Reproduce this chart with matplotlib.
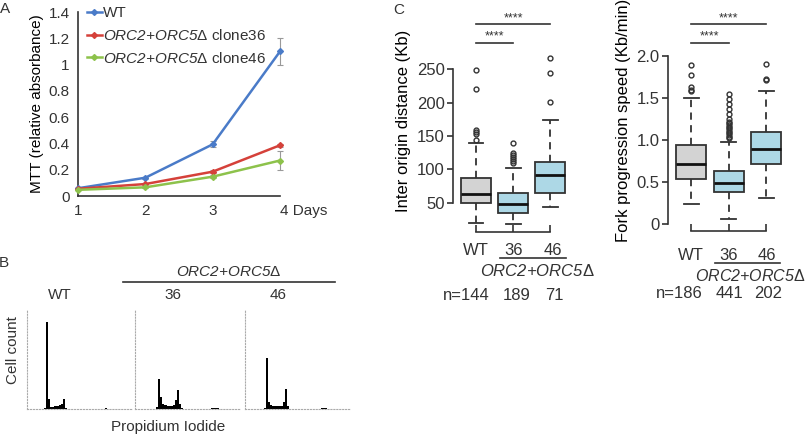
import matplotlib
matplotlib.use('Agg')
import matplotlib.pyplot as plt
import numpy as np

plt.rcParams['font.family'] = ['Liberation Sans', 'DejaVu Sans']
plt.rcParams['mathtext.fontset'] = 'custom'
# mathtext is only used for the italic gene names, so make rm italic too
# (digits and '+' inside \mathit fall back to rm)
plt.rcParams['mathtext.rm'] = 'Liberation Sans:italic'
plt.rcParams['mathtext.it'] = 'Liberation Sans:italic'
plt.rcParams['font.size'] = 11
plt.rcParams['text.color'] = '#333333'
plt.rcParams['axes.edgecolor'] = '#333333'
plt.rcParams['xtick.color'] = '#333333'
plt.rcParams['ytick.color'] = '#333333'

# ---- panel A: MTT growth
days = [1, 2, 3, 4]
day_labels = ['1', '2', '3', '4 Days']
mtt_ticks = [0, 0.2, 0.4, 0.6, 0.8, 1.0, 1.2, 1.4]
mtt_ticklabels = ['0', '0.2', '0.4', '0.6', '0.8', '1', '1.2', '1.4']
mtt_wt = [0.059, 0.139, 0.393, 1.10]
mtt_c36 = [0.055, 0.091, 0.185, 0.386]
mtt_c46 = [0.047, 0.066, 0.147, 0.27]
err_wt = [0.004, 0.008, 0.023, 0.10]
err_c36 = [0.004, 0.006, 0.01, 0.01]
err_c46 = [0.004, 0.006, 0.01, 0.072]

# ---- panel B: PI histograms (relative counts, 50 bins over 0-1000)
pi_edges = np.arange(0, 1001, 20)
hist_wt = [0, 0, 0, 0, 0, 0, 0, 0, 0.01, 0.88,
           0.10, 0.02, 0.025, 0.03, 0.035, 0.04, 0.05, 0.10, 0.01, 0.003,
           0.003, 0.003, 0.003, 0.003, 0.003, 0.003, 0.003, 0.003, 0.003, 0.003,
           0.003, 0.003, 0.003, 0.003, 0.003, 0.004, 0.005, 0.006, 0.005, 0.003,
           0.003, 0.002, 0.002, 0.002, 0.002, 0.002, 0.002, 0.002, 0.002, 0.002]
hist_c36 = [0, 0, 0, 0, 0, 0, 0, 0, 0, 0,
            0.02, 0.30, 0.12, 0.05, 0.04, 0.035, 0.035, 0.035, 0.04, 0.09,
            0.19, 0.05, 0.01, 0.004, 0.004, 0.004, 0.004, 0.004, 0.004, 0.004,
            0.004, 0.004, 0.004, 0.004, 0.004, 0.005, 0.006, 0.01, 0.015, 0.01,
            0.004, 0.003, 0.003, 0.003, 0.003, 0.002, 0.002, 0.002, 0.002, 0.002]
hist_c46 = [0, 0, 0, 0, 0, 0, 0, 0, 0, 0.01,
            0.52, 0.07, 0.04, 0.035, 0.03, 0.03, 0.03, 0.035, 0.07, 0.20,
            0.03, 0.005, 0.003, 0.003, 0.003, 0.003, 0.003, 0.003, 0.003, 0.003,
            0.003, 0.003, 0.003, 0.003, 0.003, 0.004, 0.006, 0.012, 0.006, 0.003,
            0.003, 0.002, 0.002, 0.002, 0.002, 0.002, 0.002, 0.002, 0.002, 0.002]
hist_titles = ['WT', '36', '46']

# ---- panel C: boxplot summaries
groups = ['WT', '36', '46']
dist_q1 = [50, 34, 65]
dist_med = [63.5, 48.5, 91]
dist_q3 = [87.5, 64, 111.5]
dist_lo = [20, 18, 44]
dist_hi = [140, 102.5, 174]
dist_fliers = [[144, 153, 156, 159, 221, 249],
               [110, 112.5, 115, 119, 122, 125, 140],
               [201.5, 245, 266.5]]
dist_n = ['n=144', '189', '71']
dist_ticks = [50, 100, 150, 200, 250]

speed_q1 = [0.54, 0.377, 0.714]
speed_med = [0.714, 0.484, 0.897]
speed_q3 = [0.944, 0.635, 1.099]
speed_lo = [0.238, 0.063, 0.313]
speed_hi = [1.504, 0.98, 1.587]
speed_fliers = [[1.58, 1.60, 1.63, 1.78, 1.89],
                [1.02, 1.04, 1.06, 1.08, 1.10, 1.12, 1.14, 1.16, 1.18, 1.20,
                 1.22, 1.25, 1.31, 1.365, 1.43, 1.49, 1.55],
                [1.71, 1.73, 1.91]]
speed_n = ['n=186', '441', '202']
speed_ticks = [0, 0.5, 1.0, 1.5, 2.0]
speed_ticklabels = ['0', '0.5', '1.0', '1.5', '2.0']

ORC = r'$\mathit{ORC2{+}ORC5}$Δ'
W, H = 805, 437
fig = plt.figure(figsize=(W / 100, H / 100), dpi=100)


def rect(l, t, r, b):
    return [l / W, 1 - b / H, (r - l) / W, (b - t) / H]


def ftext(x, y, s, **kw):
    kw.setdefault('ha', 'center')
    kw.setdefault('va', 'center')
    fig.text(x / W, 1 - y / H, s, **kw)


def fline(x0, x1, y, lw=1.2):
    fig.add_artist(plt.Line2D([x0 / W, x1 / W], [1 - y / H, 1 - y / H],
                              color='#333333', lw=lw))


# ================= A
axA = fig.add_axes(rect(78, 12, 280, 196))
cols = ['#4A7BC8', '#D5413A', '#8DC24B']
names = ['WT', ORC + ' clone36', ORC + ' clone46']
for vals, errs, c, nm in zip([mtt_wt, mtt_c36, mtt_c46], [err_wt, err_c36, err_c46], cols, names):
    axA.errorbar(days, vals, yerr=errs, fmt='none', ecolor='#999999', elinewidth=0.8,
                 capsize=2.5, capthick=0.8, clip_on=False, zorder=2)
    axA.plot(days, vals, color=c, lw=1.8, marker='D', ms=3, label=nm, clip_on=False, zorder=3)
axA.set_xlim(1, 4)
axA.set_ylim(0, 1.4)
axA.set_yticks(mtt_ticks)
axA.set_yticklabels(mtt_ticklabels)
axA.set_xticks(days)
axA.set_xticklabels(day_labels)
axA.get_xticklabels()[-1].set_ha('left')
axA.tick_params(length=0, labelsize=11)
axA.tick_params(axis='y', pad=6)
axA.tick_params(axis='x', pad=6)
for s in ['top', 'right']:
    axA.spines[s].set_visible(False)
for s in ['left', 'bottom']:
    axA.spines[s].set_linewidth(1.2)
axA.set_ylabel('MTT (relative absorbance)', fontsize=11, labelpad=3)
axA.legend(loc='upper left', bbox_to_anchor=(0.045, 1.03), frameon=False, fontsize=11,
           handlelength=0.95, handletextpad=0.1, labelspacing=0.5, borderpad=0,
           borderaxespad=0)
ftext(5, 9, 'A', fontsize=11)

# ================= B
ftext(4, 263, 'B', fontsize=11)
hb_left = [27, 135, 245]
for left, counts, ttl in zip(hb_left, [hist_wt, hist_c36, hist_c46], hist_titles):
    ax = fig.add_axes(rect(left, 310, left + 105, 409))
    ax.stairs(counts, pi_edges, fill=True, color='black')
    ax.set_xlim(0, 1000)
    ax.set_ylim(0, 1)
    ax.set_xticks([])
    ax.set_yticks([])
    for s in ['top', 'right']:
        ax.spines[s].set_visible(False)
    for s in ['left', 'bottom']:
        ax.spines[s].set_linestyle(':')
        ax.spines[s].set_color('#aaaaaa')
        ax.spines[s].set_linewidth(0.8)
ftext(60, 295, 'WT')
ftext(173, 295, '36')
ftext(278, 295, '46')
fline(123, 335, 282)
ftext(229, 272, ORC)
ftext(13, 350, 'Cell count', rotation=90)
ftext(168, 427, 'Propidium Iodide')

# ================= C
ftext(399, 10, 'C', fontsize=11)


def boxpanel(box_rect, ylim, q1, med, q3, lo, hi, fliers, ticks, ticklabels, bounds,
             ylabel, sig_y):
    ax = fig.add_axes(rect(*box_rect))
    stats = []
    for i in range(3):
        stats.append(dict(label=groups[i], q1=q1[i], med=med[i], q3=q3[i],
                          whislo=lo[i], whishi=hi[i], fliers=fliers[i]))
    bp = ax.bxp(stats, positions=[1, 2, 3], widths=0.8, capwidths=0.4,
                patch_artist=True,
                boxprops=dict(edgecolor='#333333', linewidth=1.3),
                medianprops=dict(color='#111111', linewidth=2),
                whiskerprops=dict(color='#333333', linewidth=1.3, linestyle=(0, (4, 3))),
                capprops=dict(color='#333333', linewidth=1.3),
                flierprops=dict(marker='o', markersize=3.5, markerfacecolor='none',
                                markeredgecolor='#333333', markeredgewidth=1))
    for patch, fc in zip(bp['boxes'], ['#D3D3D3', '#ADD8E6', '#ADD8E6']):
        patch.set_facecolor(fc)
    ax.set_xlim(0.38, 3.45)
    ax.set_ylim(*ylim)
    ax.set_yticks(ticks)
    ax.set_yticklabels(ticklabels)
    ax.set_xticks([1, 2, 3])
    ax.set_xticklabels([])
    ax.tick_params(axis='y', length=4, width=1.2, labelsize=12, pad=2)
    ax.tick_params(axis='x', direction='in', length=5, width=1.2)
    for s in ['top', 'right']:
        ax.spines[s].set_visible(False)
    ax.spines['left'].set_bounds(*bounds)
    ax.spines['bottom'].set_bounds(1, 3)
    for s in ['left', 'bottom']:
        ax.spines[s].set_linewidth(1.2)
    ax.set_ylabel(ylabel, fontsize=12, labelpad=4)
    # significance bars
    for (x0, x1), yy in zip([(1, 3), (1, 2)], sig_y):
        ax.plot([x0, x1], [yy, yy], color='#333333', lw=1.2, clip_on=False)
        ax.text((x0 + x1) / 2, yy, '****', ha='center', va='bottom', fontsize=9)
    return ax


axC1 = boxpanel((453, 10, 567, 232), (6, 339), dist_q1, dist_med, dist_q3, dist_lo,
                dist_hi, dist_fliers, dist_ticks, [str(t) for t in dist_ticks],
                (50, 250), 'Inter origin distance (Kb)', [318, 290])
axC2 = boxpanel((668, 10, 783, 231), (-0.083, 2.548), speed_q1, speed_med, speed_q3,
                speed_lo, speed_hi, speed_fliers, speed_ticks, speed_ticklabels,
                (0, 2), 'Fork progression speed (Kb/min)', [2.377, 2.158])

# group labels under C panels
for xs, y in [([476, 514, 553], 250), ([691, 729, 767], 255)]:
    for x, g in zip(xs, groups):
        ftext(x, y, g, fontsize=12)
fline(500, 566, 258)
ftext(537, 271, ORC, fontsize=12)
fline(715, 780, 263)
ftext(750, 276, ORC, fontsize=11.5)
ftext(490, 295, dist_n[0], ha='right', fontsize=12)
ftext(517, 295, dist_n[1], fontsize=12)
ftext(554, 295, dist_n[2], fontsize=12)
ftext(703, 293, speed_n[0], ha='right', fontsize=12)
ftext(729, 293, speed_n[1], fontsize=12)
ftext(768, 293, speed_n[2], fontsize=12)

fig.savefig('out.png', dpi=100)
